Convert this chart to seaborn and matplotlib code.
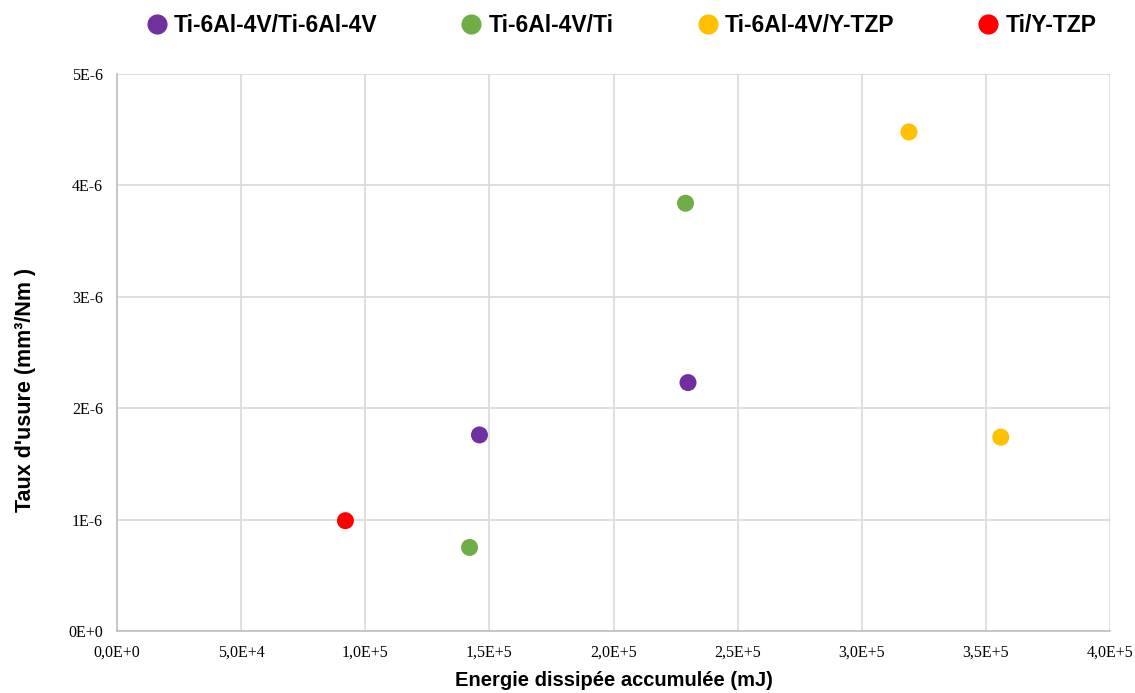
import matplotlib
matplotlib.use("Agg")
import matplotlib.pyplot as plt
import numpy as np
import pandas as pd
import seaborn as sns

# ---- data ----
pairs = ["Ti-6Al-4V/Ti-6Al-4V", "Ti-6Al-4V/Ti", "Ti-6Al-4V/Y-TZP", "Ti/Y-TZP"]
energy_ti64_ti64 = [1.46e5, 2.30e5]
wear_ti64_ti64 = [1.76e-6, 2.23e-6]
energy_ti64_ti = [1.42e5, 2.29e5]
wear_ti64_ti = [0.75e-6, 3.84e-6]
energy_ti64_ytzp = [3.19e5, 3.56e5]
wear_ti64_ytzp = [4.48e-6, 1.74e-6]
energy_ti_ytzp = [0.92e5]
wear_ti_ytzp = [0.99e-6]

colors = ["#7030A0", "#70AD47", "#FFC000", "#FF0000"]

x_ticks = [0, 5e4, 1e5, 1.5e5, 2e5, 2.5e5, 3e5, 3.5e5, 4e5]
x_labels = ["0,0E+0", "5,0E+4", "1,0E+5", "1,5E+5", "2,0E+5",
            "2,5E+5", "3,0E+5", "3,5E+5", "4,0E+5"]
y_ticks = [0, 1e-6, 2e-6, 3e-6, 4e-6, 5e-6]
y_labels = ["0E+0", "1E-6", "2E-6", "3E-6", "4E-6", "5E-6"]

df = pd.concat([
    pd.DataFrame({"energy": e, "wear": w, "pair": p})
    for e, w, p in zip(
        [energy_ti64_ti64, energy_ti64_ti, energy_ti64_ytzp, energy_ti_ytzp],
        [wear_ti64_ti64, wear_ti64_ti, wear_ti64_ytzp, wear_ti_ytzp],
        pairs,
    )
], ignore_index=True)

sns.set_style("white")
plt.rcParams["font.family"] = ["Liberation Sans", "DejaVu Sans"]
plt.rcParams["text.color"] = "black"
plt.rcParams["axes.labelcolor"] = "black"
plt.rcParams["xtick.color"] = "black"
plt.rcParams["ytick.color"] = "black"

fig = plt.figure(figsize=(11.35, 6.93), dpi=100)
ax = fig.add_axes([0.1031, 0.0895, 0.8749, 0.8037])

sns.scatterplot(
    data=df, x="energy", y="wear", hue="pair", hue_order=pairs,
    palette=colors, s=150, edgecolor="none", ax=ax, legend=False, zorder=3,
)

ax.set_xlim(0, 4e5)
ax.set_ylim(0, 5e-6)
ax.set_xticks(x_ticks)
ax.set_xticklabels(x_labels, family="Liberation Serif", fontsize=11.5)
ax.set_yticks(y_ticks)
ax.set_yticklabels(y_labels, family="Liberation Serif", fontsize=11.5)
ax.tick_params(axis="both", length=0, pad=10)

ax.grid(True, color="#D9D9D9", linewidth=1.2, zorder=0)
ax.set_axisbelow(True)
for side in ["top", "right"]:
    ax.spines[side].set_visible(False)
for side in ["left", "bottom"]:
    ax.spines[side].set_color("#BFBFBF")
    ax.spines[side].set_linewidth(1.2)

ax.set_xlabel("Energie dissipée accumulée (mJ)", fontsize=14.5,
              fontweight="bold", labelpad=7)
ax.set_ylabel("Taux d'usure (mm³/Nm )", fontsize=15.5, fontweight="bold")
ax.yaxis.set_label_coords(-0.082, 0.433)

handles = [
    plt.Line2D([], [], marker="o", linestyle="none", markersize=14.5,
               markerfacecolor=c, markeredgecolor="none")
    for c in colors
]
fig.legend(handles, pairs, loc="upper center", bbox_to_anchor=(0.545, 1.01),
           ncol=4, frameon=False, handletextpad=0.05, columnspacing=3.4,
           handlelength=1.4, prop={"weight": "bold", "size": 16.5})

fig.savefig("out.png", dpi=100, facecolor="white")
